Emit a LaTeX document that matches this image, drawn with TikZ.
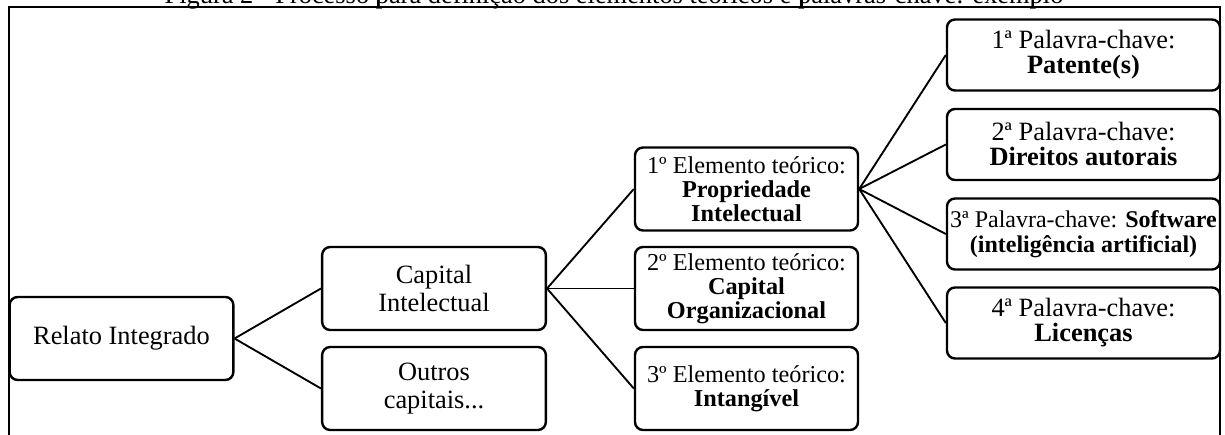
\documentclass[tikz,border=0pt]{standalone}
\usepackage{fontspec}
\setmainfont{Liberation Serif}
\begin{document}
\begin{tikzpicture}[x=0.75pt,y=-0.75pt,
  box/.style={draw, line width=1.8pt, rounded corners=6pt, align=center, inner sep=0pt},
  lbox/.style={box, minimum width=167.75pt, minimum height=62.25pt, font=\fontsize{19.8}{21}\selectfont},
  ebox/.style={box, minimum width=167.25pt, minimum height=62.25pt, font=\fontsize{18.2}{18}\selectfont},
  kbox/.style={box, minimum width=204.75pt, minimum height=53.25pt, font=\fontsize{19.8}{18.75}\selectfont},
  ksmall/.style={font=\fontsize{18}{18.75}\selectfont},
  link/.style={line width=1.4pt},
  frameline/.style={line width=1.4pt},
  tick/.style={line width=0.8pt}
]
\useasboundingbox (0,0) rectangle (1225,435);

% title (partly cut off at the top)
\node[anchor=base, inner sep=0pt, font=\fontsize{19.8}{21}\selectfont] (title) at (614,3.5)
  {Figura 2 - Processo para definição dos elementos teóricos e palavras-chave: exemplo};
\coordinate (t1a) at (378,-2); \coordinate (t1b) at (378,7);
\coordinate (t2a) at (802,-2); \coordinate (t2b) at (802,7);
\coordinate (t3a) at (1033,-2); \coordinate (t3b) at (1033,7);
\draw[tick] (t1a) -- (t1b);
\draw[tick] (t2a) -- (t2b);
\draw[tick] (t3a) -- (t3b);

% frame
\coordinate (fbl) at (9,445);
\coordinate (ftl) at (9,7);
\coordinate (ftr) at (1220,7);
\coordinate (fbr) at (1220,445);
\draw[frameline] (fbl) -- (ftl) -- (ftr) -- (fbr);

% boxes
\node[lbox] (ri) at (121.5,338.5) {Relato Integrado};
\node[lbox] (ci) at (434,288.5) {Capital\\Intelectual};
\node[lbox] (oc) at (434,388.5) {Outros\\capitais...};

\node[ebox] (e1) at (746.5,189) {1º Elemento teórico:\\\textbf{Propriedade}\\\textbf{Intelectual}};
\node[ebox] (e2) at (746.5,288.5) {2º Elemento teórico:\\\textbf{Capital}\\\textbf{Organizacional}};
\node[ebox] (e3) at (746.5,388.5) {3º Elemento teórico:\\\textbf{Intangível}};

\node[kbox] (k1) at (1083.5,55) {1ª Palavra-chave:\\\textbf{Patente(s)}};
\node[kbox] (k2) at (1083.5,144.5) {2ª Palavra-chave:\\\textbf{Direitos autorais}};
\node[kbox, ksmall] (k3) at (1083.5,234) {3ª Palavra-chave: \textbf{Software}\\\textbf{(inteligência artificial)}};
\node[kbox] (k4) at (1083.5,323) {4ª Palavra-chave:\\\textbf{Licenças}};

% connectors
\draw[link] (ri.east) -- (ci.west);
\draw[link] (ri.east) -- (oc.west);
\draw[link] (ci.east) -- (e1.west);
\draw[link] (ci.east) -- (e2.west);
\draw[link] (ci.east) -- (e3.west);
\draw[link] (e1.east) -- (k1.west);
\draw[link] (e1.east) -- (k2.west);
\draw[link] (e1.east) -- (k3.west);
\draw[link] (e1.east) -- (k4.west);
\end{tikzpicture}
\end{document}
